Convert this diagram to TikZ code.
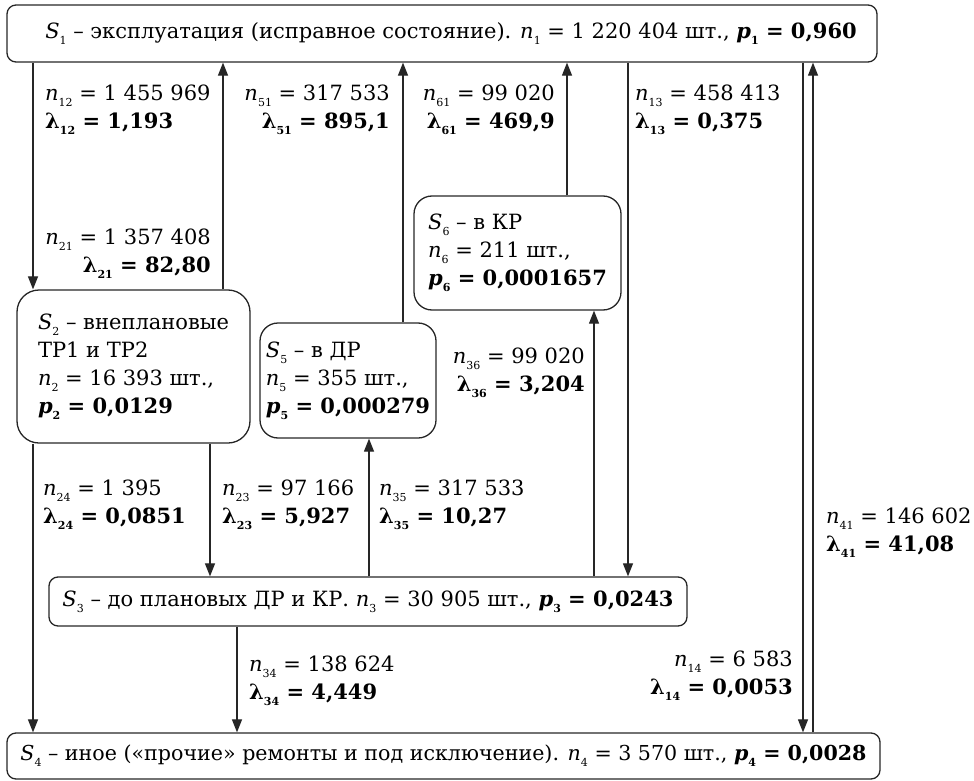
\documentclass[tikz,border=0pt]{standalone}
\usepackage{fontspec}
\setmainfont{DejaVu Serif}
\usetikzlibrary{arrows.meta}

\newcommand{\lowidx}[1]{\raisebox{-0.55ex}{\fontsize{11}{11}\selectfont #1}}
\newcommand{\Sx}[1]{\textit{S}\lowidx{#1}}
\newcommand{\nn}[1]{\textit{n}\lowidx{#1}}
\newcommand{\lamv}[2]{\textbf{λ\lowidx{#1} = #2}}
\newcommand{\pv}[2]{\textbf{\textit{p}\lowidx{#1} = #2}}

\begin{document}
\begin{tikzpicture}[
  x=1pt, y=-1pt,
  state/.style={rectangle, rounded corners=9pt, draw=black!85, line width=1.3pt, font=\fontsize{21}{28}\selectfont, align=left, inner sep=0pt},
  rstate/.style={state, rounded corners=22pt},
  arrow/.style={-{Triangle[length=13pt, width=10pt]}, line width=1.2pt, black!85},
  lbl/.style={font=\fontsize{21}{28}\selectfont, inner sep=0pt}
]
\useasboundingbox (0,0) rectangle (974,781);

% States
\node[state, minimum width=870pt, minimum height=57pt] (s1) at (442,33.5) {\hspace*{18pt}\Sx{1} – эксплуатация (исправное состояние). \nn{1} = 1 220 404 шт., \pv{1}{0,960}};
\node[rstate, minimum width=233pt, minimum height=153pt] (s2) at (133.5,366.5) {\Sx{2} – внеплановые\\ТР1 и ТР2\\\nn{2} = 16 393 шт.,\\\pv{2}{0,0129}};
\node[rstate, rounded corners=18pt, minimum width=176pt, minimum height=115pt] (s5) at (348,380.5) {\Sx{5} – в ДР\\\nn{5} = 355 шт.,\\\pv{5}{0,000279}};
\node[rstate, rounded corners=18pt, minimum width=207pt, minimum height=114pt] (s6) at (517.5,253) {\Sx{6} – в КР\\\nn{6} = 211 шт.,\\\pv{6}{0,0001657}};
\node[state, minimum width=638pt, minimum height=49pt] (s3) at (368,601.5) {\Sx{3} – до плановых ДР и КР. \nn{3} = 30 905 шт., \pv{3}{0,0243}};
\node[state, minimum width=873pt, minimum height=46pt, font=\fontsize{20.6}{28}\selectfont] (s4) at (443.5,756) {\Sx{4} – иное («прочие» ремонты и под исключение). \nn{4} = 3 570 шт., \pv{4}{0,0028}};

% Transitions from S1 and back
\draw[arrow] (s1.south -| 33,0) -- (s2.north -| 33,0);
\draw[arrow] (s2.north -| 223,0) -- (s1.south -| 223,0);
\draw[arrow] (s5.north -| 403,0) -- (s1.south -| 403,0);
\draw[arrow] (s6.north -| 567,0) -- (s1.south -| 567,0);
\draw[arrow] (s1.south -| 628,0) -- (s3.north -| 628,0);
\draw[arrow] (s1.south -| 803,0) -- (s4.north -| 803,0);
\draw[arrow] (s4.north -| 813,0) -- (s1.south -| 813,0);

% Lower transitions
\draw[arrow] (s2.south -| 33,0) -- (s4.north -| 33,0);
\draw[arrow] (s2.south -| 210,0) -- (s3.north -| 210,0);
\draw[arrow] (s3.north -| 369,0) -- (s5.south -| 369,0);
\draw[arrow] (s3.north -| 594,0) -- (s6.south -| 594,0);
\draw[arrow] (s3.south -| 237,0) -- (s4.north -| 237,0);

% Labels
\node[lbl, anchor=west, align=left] (t12) at (45,110) {\nn{12} = 1 455 969\\\lamv{12}{1,193}};
\node[lbl, anchor=east, align=right] (t21) at (211,254) {\nn{21} = 1 357 408\\\lamv{21}{82,80}};
\node[lbl, anchor=east, align=right] (t51) at (390,110) {\nn{51} = 317 533\\\lamv{51}{895,1}};
\node[lbl, anchor=east, align=right] (t61) at (555,110) {\nn{61} = 99 020\\\lamv{61}{469,9}};
\node[lbl, anchor=west, align=left] (t13) at (635,110) {\nn{13} = 458 413\\\lamv{13}{0,375}};
\node[lbl, anchor=east, align=right] (t36) at (585,373) {\nn{36} = 99 020\\\lamv{36}{3,204}};
\node[lbl, anchor=west, align=left] (t24) at (43,505) {\nn{24} = 1 395\\\lamv{24}{0,0851}};
\node[lbl, anchor=west, align=left] (t23) at (222,505) {\nn{23} = 97 166\\\lamv{23}{5,927}};
\node[lbl, anchor=west, align=left] (t35) at (379,505) {\nn{35} = 317 533\\\lamv{35}{10,27}};
\node[lbl, anchor=west, align=left] (t41) at (826,533) {\nn{41} = 146 602\\\lamv{41}{41,08}};
\node[lbl, anchor=east, align=right] (t14) at (793,676) {\nn{14} = 6 583\\\lamv{14}{0,0053}};
\node[lbl, anchor=west, align=left] (t34) at (249,681) {\nn{34} = 138 624\\\lamv{34}{4,449}};

\end{tikzpicture}
\end{document}
